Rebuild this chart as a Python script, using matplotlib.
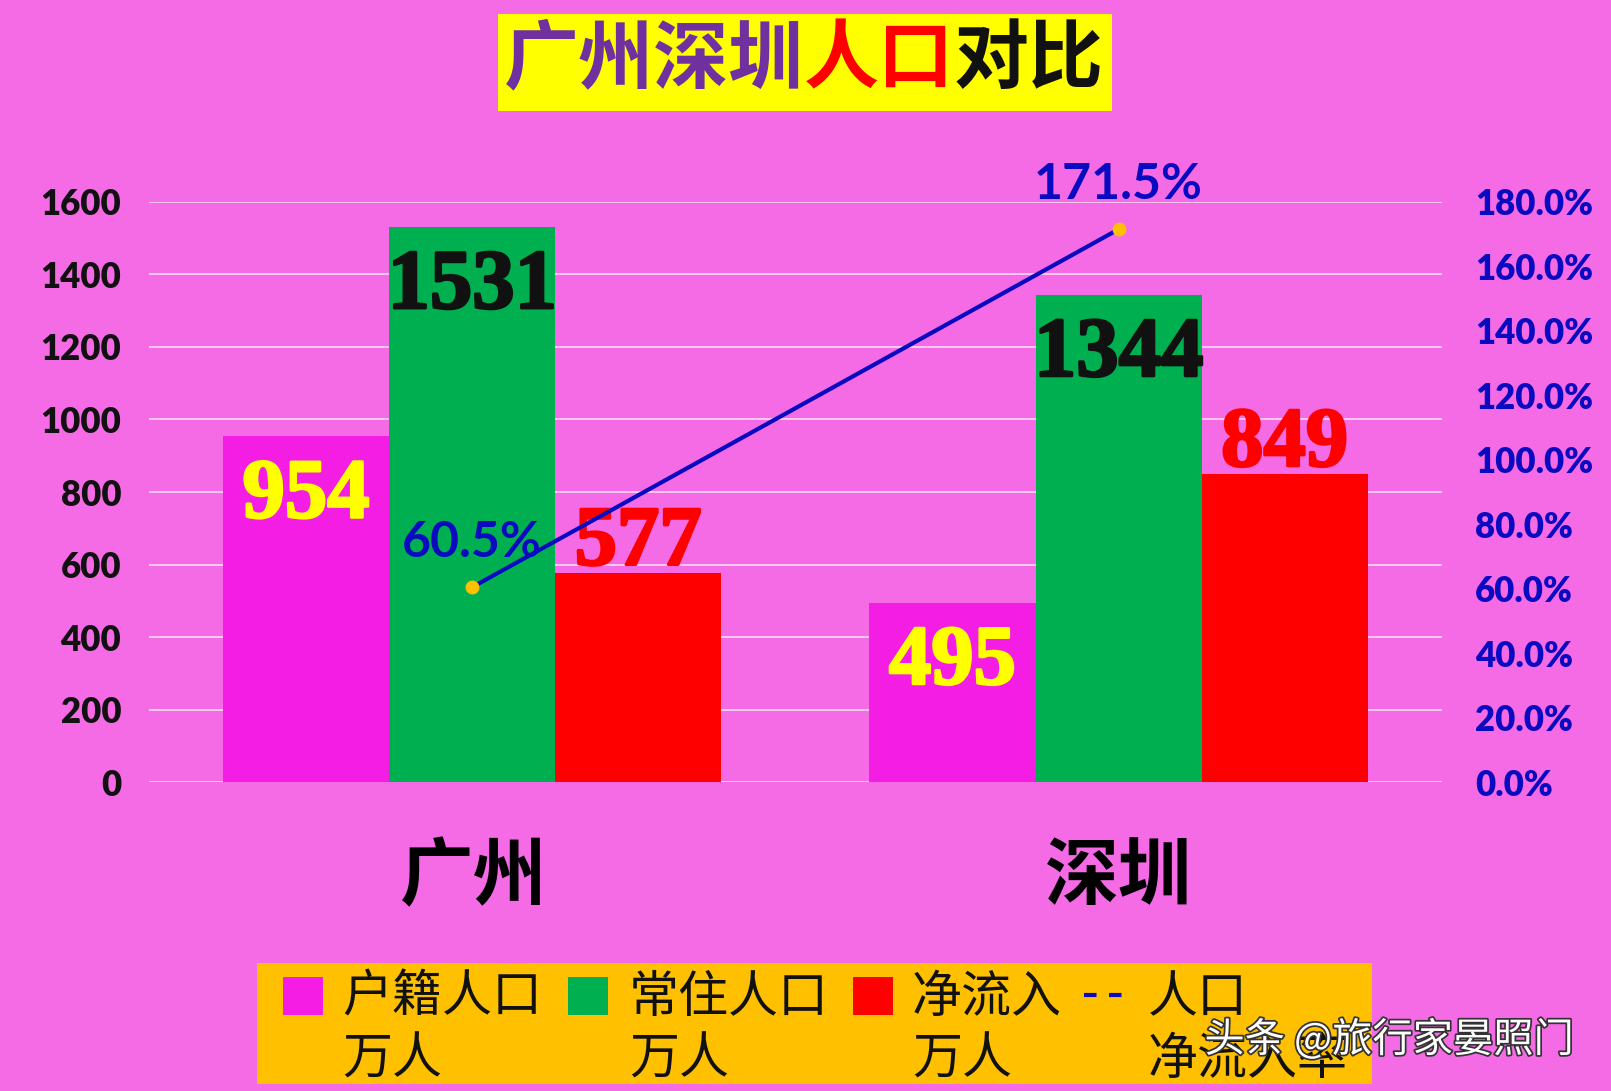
import matplotlib
matplotlib.use("Agg")
import matplotlib.pyplot as plt
from matplotlib.patches import Rectangle
from matplotlib.lines import Line2D
import matplotlib.patheffects as pe
import numpy as np

plt.rcParams['font.family'] = ['Noto Sans CJK SC', 'DejaVu Sans']

# data
cities = ['广州', '深圳']
huji = [954, 495]          # 户籍人口 万人
changzhu = [1531, 1344]    # 常住人口 万人
jingliu = [577, 849]       # 净流入 万人
rate = [0.605, 1.715]      # 人口净流入率
series_names = ['户籍人口\n万人', '常住人口\n万人', '净流入\n万人', '人口\n净流入率']

bg = '#F46BE5'
c_pink = '#F41DE4'
c_green = '#00B050'
c_red = '#FF0000'
c_blue = '#0A0AC0'
c_marker = '#FFC000'

fig = plt.figure(figsize=(16.11, 10.91), dpi=100, facecolor=bg)
ax = fig.add_axes([0.0925, 0.283, 0.8025, 0.532])
ax.set_facecolor(bg)
ax2 = ax.twinx()

x = np.arange(len(cities))
w = 0.257
bars1 = ax.bar(x - w, huji, w, color=c_pink, zorder=2)
bars2 = ax.bar(x, changzhu, w, color=c_green, zorder=2)
bars3 = ax.bar(x + w, jingliu, w, color=c_red, zorder=2)

ax.set_xlim(-0.5, 1.5)
ax.set_ylim(0, 1600)
ax.set_yticks(range(0, 1601, 200))
ax.grid(axis='y', color='#FAD2F2', linewidth=1.3, zorder=0)
ax.set_axisbelow(True)
for s in ax.spines.values():
    s.set_visible(False)
for s in ax2.spines.values():
    s.set_visible(False)
ax.tick_params(axis='y', length=0, pad=20)
ax.tick_params(axis='x', length=0, pad=42)
ax.set_xticks(x)
ax.set_xticklabels(cities, fontsize=53, fontweight='heavy', color='black')
for t in ax.get_yticklabels():
    t.set_fontfamily('Lato')
    t.set_fontweight('heavy')
    t.set_fontsize(25)
    t.set_color('#111111')

# data labels
bold_fx = lambda c: [pe.withStroke(linewidth=2, foreground=c)]

def label_bars(bars, vals, color, inside):
    for b, v in zip(bars, vals):
        cx = b.get_x() + b.get_width() / 2
        if inside:
            ax.annotate(str(v), (cx, v), xytext=(0, -16), textcoords='offset points',
                        ha='center', va='top', fontsize=61, fontweight='bold',
                        family='Liberation Serif', color=color, zorder=5,
                        path_effects=bold_fx(color))
        else:
            ax.annotate(str(v), (cx, v), xytext=(0, 6), textcoords='offset points',
                        ha='center', va='baseline', fontsize=61, fontweight='bold',
                        family='Liberation Serif', color=color, zorder=5,
                        path_effects=bold_fx(color))

label_bars(bars1, huji, '#FFFF00', True)
label_bars(bars2, changzhu, '#111111', True)
label_bars(bars3, jingliu, c_red, False)

# line on secondary axis
ax2.plot(x, rate, color=c_blue, linewidth=3, zorder=6)
ax2.plot(x, rate, 'o', color=c_marker, markersize=9, zorder=7)
ax2.set_ylim(0, 1.8)
ax2.set_yticks(np.arange(0, 1.81, 0.2))
ax2.set_yticklabels([f'{v*100:.1f}%' for v in np.arange(0, 1.81, 0.2)])
ax2.tick_params(axis='y', length=0, pad=24)
for t in ax2.get_yticklabels():
    t.set_fontfamily('Lato')
    t.set_fontweight('heavy')
    t.set_fontsize(25)
    t.set_color(c_blue)
for xi, r in zip(x, rate):
    ax2.annotate(f'{r*100:.1f}%', (xi, r), xytext=(0, 22), textcoords='offset points',
                 ha='center', va='baseline', fontsize=36, fontweight='bold',
                 family='Lato', color=c_blue, zorder=8, annotation_clip=False)

# title box
fig.patches.append(Rectangle((498 / 1611, 1 - 111 / 1091), 614 / 1611, 97 / 1091,
                             transform=fig.transFigure, facecolor='#FFFF00',
                             edgecolor='none', zorder=1))
ty = 1 - 60 / 1091
title_fx = [pe.withStroke(linewidth=1.5, foreground='none')]
t1 = fig.text(504 / 1611, ty, '广州深圳', fontsize=54, fontweight='heavy',
              color='#7030A0', va='center', ha='left')
t2 = fig.text(0, 0, '人口', fontsize=54, fontweight='heavy', color='#FF0000',
              va='center', ha='left')
t3 = fig.text(0, 0, '对比', fontsize=54, fontweight='heavy', color='#111111',
              va='center', ha='left')
fig.canvas.draw()
r = fig.canvas.get_renderer()
bb1 = t1.get_window_extent(r)
t2.set_position((bb1.x1 / fig.bbox.width, ty))
bb2 = t2.get_window_extent(r)
t3.set_position((bb2.x1 / fig.bbox.width, ty))

# legend box
fig.patches.append(Rectangle((257 / 1611, 1 - 1084 / 1091), 1115 / 1611, 121 / 1091,
                             transform=fig.transFigure, facecolor='#FFC000',
                             edgecolor='none', zorder=1))
handle_x = [283, 568, 853, 1084]
text_x = [342, 629, 912, 1148]
row_y = 1 - 995 / 1091
colors = [c_pink, c_green, c_red]
for i, name in enumerate(series_names):
    if i < 3:
        fig.patches.append(Rectangle((handle_x[i] / 1611, row_y - 20 / 1091), 40 / 1611, 38 / 1091,
                                     transform=fig.transFigure, facecolor=colors[i],
                                     edgecolor='none', zorder=2))
    else:
        fig.lines.append(Line2D([handle_x[i] / 1611, (handle_x[i] + 44) / 1611], [row_y, row_y],
                                transform=fig.transFigure, color=c_blue, linewidth=3,
                                linestyle=(0, (3, 3)), zorder=2))
    fig.text(text_x[i] / 1611, row_y + 23 / 1091, name, fontsize=36, color='#111111',
             va='top', ha='left', linespacing=1.25)

# watermark
fig.text(1389 / 1611, 1 - 1040 / 1091, '头条 @旅行家晏照门', fontsize=29, color='white',
         ha='center', va='center', zorder=10,
         path_effects=[pe.withStroke(linewidth=2.5, foreground='#333333')])

fig.savefig('out.png', dpi=100, facecolor=bg)
